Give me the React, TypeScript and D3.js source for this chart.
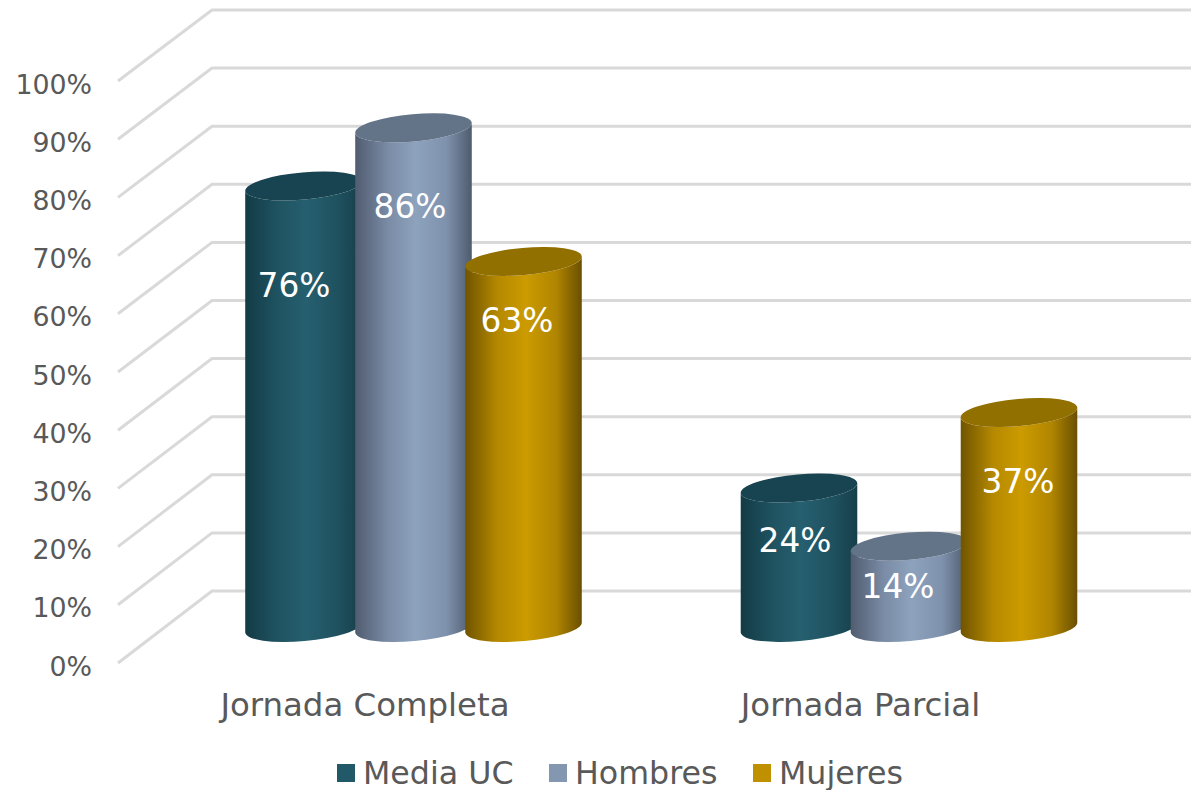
import React from 'react';
import * as d3 from 'd3';

const categories = ['Jornada Completa', 'Jornada Parcial'];
const seriesNames = ['Media UC', 'Hombres', 'Mujeres'];
const mediaUC = [76, 24];
const hombres = [86, 14];
const mujeres = [63, 37];
const ticks = [0, 10, 20, 30, 40, 50, 60, 70, 80, 90, 100];
// label placement relative to the top of each cylinder, per series then category
const labelDx = [[-9.5, -4], [-3.5, -11], [-6.5, -1]];
const labelDy = [[100, 53], [79, 41], [60, 69]];

const palette = [
  { id: 'g0', stops: ['#133b45', '#1f5361', '#265f6f', '#1f5260', '#173f4a'], top: '#184350', key: '#215968' },
  { id: 'g1', stops: ['#515c70', '#7a8ba5', '#8da2bd', '#7f92ad', '#4f5b6e'], top: '#647488', key: '#8497b0' },
  { id: 'g2', stops: ['#705400', '#b58900', '#cc9b00', '#b08500', '#6a4f00'], top: '#917000', key: '#bf9000' },
];
const stopOffsets = ['0%', '28%', '52%', '78%', '100%'];

const font = '"DejaVu Sans", Verdana, sans-serif';
const textColor = '#595959';
const gridColor = '#d9d9d9';

// 3D projection of the value axis
const yFront = d3.scaleLinear().domain([0, 100]).range([663, 81]);
const yBack = d3.scaleLinear().domain([0, 100]).range([591, 10]);
const yBar = d3.scaleLinear().domain([0, 100]).range([627.5, 46.5]);
const xCat = d3.scaleOrdinal<string, number>().domain(categories).range([413.5, 909]);
const xSeries = d3.scalePoint<string>().domain(seriesNames).range([-110, 110]);
const rx = 58.5;
const ry = 13.6;
const tilt = -5;

function Cylinder({ cx, value, s }: { cx: number; value: number; s: number }) {
  const top = yBar(value);
  const bot = yBar(0);
  const rad = (tilt * Math.PI) / 180;
  const dx = rx * Math.cos(rad);
  const dy = rx * Math.sin(rad);
  const body = `M${cx - dx},${top - dy} L${cx - dx},${bot - dy} A${rx},${ry} ${tilt} 0 0 ${cx + dx},${bot + dy} L${cx + dx},${top + dy} A${rx},${ry} ${tilt} 0 1 ${cx - dx},${top - dy} Z`;
  return (
    <g>
      <path d={body} fill={`url(#${palette[s].id})`} />
      <ellipse cx={cx} cy={top} rx={rx} ry={ry} transform={`rotate(${tilt} ${cx} ${top})`} fill={palette[s].top} />
    </g>
  );
}

export default function App() {
  const data = [mediaUC, hombres, mujeres];
  const legendX = [337, 549, 753];
  return (
    <svg width={1191} height={790} style={{ position: 'absolute', left: 0, top: 0, background: '#fff' }}>
      <defs>
        {palette.map((p) => (
          <linearGradient key={p.id} id={p.id} x1="0" x2="1" y1="0" y2="0">
            {p.stops.map((c, i) => (
              <stop key={i} offset={stopOffsets[i]} stopColor={c} />
            ))}
          </linearGradient>
        ))}
      </defs>
      {ticks.map((t) => (
        <g key={t}>
          <polyline
            points={`118,${yFront(t)} 212,${yBack(t)} 1191,${yBack(t)}`}
            fill="none"
            stroke={gridColor}
            strokeWidth={3}
          />
          <text x={92} y={yFront(t) + 12.5} textAnchor="end" fontFamily={font} fontSize={26.8} fill={textColor}>
            {t}%
          </text>
        </g>
      ))}
      {categories.map((c, ci) => (
        <g key={c}>
          {seriesNames.map((sn, s) => (
            <Cylinder key={sn} cx={xCat(c) + (xSeries(sn) as number)} value={data[s][ci]} s={s} />
          ))}
        </g>
      ))}
      {categories.map((c, ci) =>
        seriesNames.map((sn, s) => (
          <text
            key={sn}
            x={xCat(c) + (xSeries(sn) as number) + labelDx[s][ci]}
            y={yBar(data[s][ci]) + labelDy[s][ci] + 11}
            textAnchor="middle"
            fontFamily={font}
            fontSize={32.8}
            fill="#fff"
          >
            {data[s][ci]}%
          </text>
        )),
      )}
      {categories.map((c) => (
        <text key={c} x={xCat(c) - 48.5} y={716} textAnchor="middle" fontFamily={font} fontSize={32.4} fill={textColor}>
          {c}
        </text>
      ))}
      {seriesNames.map((sn, s) => (
        <g key={sn}>
          <rect x={legendX[s]} y={764} width={18} height={18} fill={palette[s].key} />
          <text x={legendX[s] + 26} y={783.5} fontFamily={font} fontSize={31.7} fill={textColor}>
            {sn}
          </text>
        </g>
      ))}
    </svg>
  );
}
